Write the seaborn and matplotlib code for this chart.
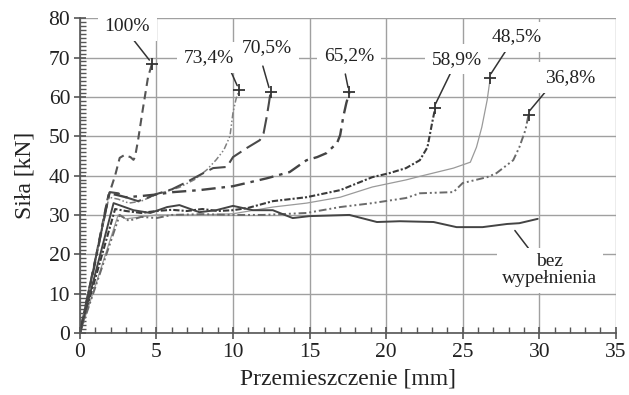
import matplotlib
matplotlib.use("Agg")
import matplotlib.pyplot as plt
import seaborn as sns
import pandas as pd
from matplotlib.ticker import MultipleLocator

# ---------------- data ----------------
series_names = ["100%", "73,4%", "70,5%", "65,2%", "58,9%", "48,5%", "36,8%", "bez wypełnienia"]

x_100 = [0, 1.0, 1.8, 2.3, 2.6, 2.9, 3.3, 3.5, 3.6, 3.8, 4.1, 4.45, 4.7]
y_100 = [0, 18.5, 34.0, 40.0, 44.5, 45.2, 44.7, 44.0, 44.7, 49.0, 56.6, 65.0, 68.3]

x_734 = [0, 1.0, 1.9, 2.5, 3.2, 4.0, 5.0, 6.5, 7.5, 8.3, 8.9, 9.4, 9.8, 10.0, 10.2, 10.4]
y_734 = [0, 18.0, 34.5, 34.0, 33.0, 33.5, 35.2, 37.0, 39.0, 41.5, 44.0, 46.5, 50.0, 56.0, 59.5, 61.7]

x_705 = [0, 1.0, 1.95, 2.5, 3.0, 3.8, 4.5, 5.0, 6.0, 7.0, 8.0, 8.7, 9.6, 10.0, 10.9, 11.75, 12.0, 12.2, 12.35, 12.45]
y_705 = [0, 18.5, 35.8, 35.5, 34.5, 33.5, 34.5, 35.3, 36.5, 38.4, 40.5, 41.9, 42.2, 44.7, 47.0, 49.0, 50.8, 54.9, 58.5, 61.2]

x_652 = [0, 1.0, 1.9, 2.5, 3.0, 4.0, 5.0, 6.1, 7.8, 10.0, 12.2, 13.7, 14.8, 15.5, 16.1, 16.8, 17.0, 17.2, 17.4, 17.6]
y_652 = [0, 18.0, 35.5, 35.0, 34.5, 34.8, 35.2, 35.8, 36.3, 37.3, 39.3, 40.9, 43.9, 44.7, 45.7, 48.3, 50.3, 54.9, 58.4, 61.2]

x_589 = [0, 1.2, 2.3, 3.0, 4.0, 5.0, 6.0, 7.0, 8.0, 9.0, 10.0, 11.0, 12.6, 14.8, 17.0, 19.1, 20.2, 21.3, 22.2, 22.7, 23.0, 23.2]
y_589 = [0, 16.5, 31.5, 31.0, 30.5, 31.0, 31.3, 31.0, 31.5, 31.0, 31.2, 31.8, 33.5, 34.5, 36.3, 39.6, 40.6, 41.9, 43.9, 47.2, 53.3, 57.1]

x_485 = [0, 1.3, 2.5, 3.0, 4.0, 5.0, 6.0, 8.0, 10.0, 12.6, 14.8, 17.0, 19.1, 21.3, 22.2, 24.4, 25.5, 25.9, 26.25, 26.6, 26.8]
y_485 = [0, 15.5, 30.0, 29.0, 29.5, 30.0, 30.0, 30.0, 30.3, 32.0, 33.0, 34.5, 37.1, 38.9, 39.8, 41.9, 43.4, 47.2, 52.3, 59.2, 64.8]

x_368 = [0, 1.3, 2.6, 3.2, 4.0, 5.0, 6.0, 8.0, 10.0, 12.0, 14.8, 17.0, 19.1, 21.3, 22.2, 24.4, 25.0, 26.6, 27.2, 28.3, 28.7, 29.1, 29.3]
y_368 = [0, 15.0, 30.0, 28.5, 29.5, 29.2, 30.0, 30.2, 30.0, 30.0, 30.5, 32.0, 33.0, 34.3, 35.5, 35.8, 38.1, 39.6, 40.6, 43.9, 47.2, 51.6, 55.4]

x_bez = [0, 1.1, 2.2, 3.5, 4.6, 5.7, 6.5, 7.8, 8.9, 10.0, 11.3, 12.6, 13.9, 15.0, 17.6, 19.4, 20.9, 23.1, 24.6, 26.3, 27.9, 28.7, 29.9]
y_bez = [0, 16.5, 33.0, 31.2, 30.5, 32.0, 32.5, 30.7, 31.2, 32.3, 31.2, 31.2, 29.2, 29.7, 30.0, 28.2, 28.4, 28.2, 26.9, 26.9, 27.7, 27.9, 29.0]

xs = [x_100, x_734, x_705, x_652, x_589, x_485, x_368, x_bez]
ys = [y_100, y_734, y_705, y_652, y_589, y_485, y_368, y_bez]

x_label = "Przemieszczenie [mm]"
y_label = "Siła [kN]"
x_ticks = [0, 5, 10, 15, 20, 25, 30, 35]
y_ticks = [0, 10, 20, 30, 40, 50, 60, 70, 80]

# ---------------- styles / layout ----------------
styles = {
    "100%":            dict(color="#555555", ls=(0, (4, 2.5)), lw=1.5),
    "73,4%":           dict(color="#808080", ls=(0, (4, 1.5, 1, 1.5, 1, 1.5)), lw=1.1),
    "70,5%":           dict(color="#4a4a4a", ls=(0, (8, 3)), lw=1.5),
    "65,2%":           dict(color="#444444", ls=(0, (6, 2.5, 1.5, 2.5)), lw=1.7),
    "58,9%":           dict(color="#3a3a3a", ls=(0, (3, 1, 1, 1)), lw=1.5),
    "48,5%":           dict(color="#9a9a9a", ls="-", lw=0.9),
    "36,8%":           dict(color="#6a6a6a", ls=(0, (4, 1.5, 1, 1.5, 1, 1.5)), lw=1.4),
    "bez wypełnienia": dict(color="#444444", ls="-", lw=1.4),
}
# annotation: text position (data), arrow start (data)
annot = {
    "100%":  ((3.1, 78.0), (3.4, 75.0)),
    "73,4%": ((8.4, 70.0), (9.8, 67.0)),
    "70,5%": ((12.2, 72.4), (11.9, 68.5)),
    "65,2%": ((17.6, 70.6), (17.3, 66.5)),
    "58,9%": ((24.6, 69.6), (24.3, 66.8)),
    "48,5%": ((28.5, 75.2), (27.9, 72.2)),
    "36,8%": ((32.0, 65.0), (30.6, 62.2)),
}

sns.set_theme(style="white")
plt.rcParams['font.family'] = ['Liberation Serif', 'DejaVu Serif']

fig = plt.figure(figsize=(6.29, 3.95), dpi=100)
ax = fig.add_axes([0.127, 0.157, 0.852, 0.797])

for name, x, y in zip(series_names, xs, ys):
    st = styles[name]
    df = pd.DataFrame({"x": x, "y": y})
    sns.lineplot(data=df, x="x", y="y", ax=ax, sort=False, estimator=None,
                 color=st["color"], linestyle=st["ls"], linewidth=st["lw"], zorder=3)
    if name in annot:
        ax.plot(x[-1], y[-1], marker="+", color="#333333", markersize=8,
                markeredgewidth=1.3, zorder=4)

ax.set_xlim(0, 35)
ax.set_ylim(0, 80)
ax.set_xticks(x_ticks)
ax.set_yticks(y_ticks)
ax.xaxis.set_minor_locator(MultipleLocator(1))
ax.yaxis.set_minor_locator(MultipleLocator(1))
ax.grid(True, which="major", color="#a0a0a0", linewidth=1.0, zorder=0)
ax.set_axisbelow(True)

for side in ["top", "right"]:
    ax.spines[side].set_visible(False)
for side in ["left", "bottom"]:
    ax.spines[side].set_color("#555555")
    ax.spines[side].set_linewidth(1.2)
    ax.spines[side].set_zorder(5)

ax.tick_params(axis="both", which="major", direction="inout", length=8, width=1.2,
               color="#555555", labelsize=15.5, pad=3)
ax.tick_params(axis="both", which="minor", direction="in", length=4, width=1.0,
               color="#555555")
ax.tick_params(axis="x", which="both", bottom=True)
ax.tick_params(axis="y", which="both", left=True)

ax.set_xlabel(x_label, fontsize=17, color="#222222", labelpad=5)
ax.set_ylabel(y_label, fontsize=17, color="#222222", labelpad=9)
for lab in ax.get_xticklabels() + ax.get_yticklabels():
    lab.set_color("#222222")

bbox = dict(boxstyle="square,pad=0.35", fc="white", ec="none")
for name, (txt_xy, arr_xy) in annot.items():
    i = series_names.index(name)
    end = (xs[i][-1] - 0.05, ys[i][-1] + 0.5)
    ax.annotate("", xy=end, xytext=arr_xy,
                arrowprops=dict(arrowstyle="-", color="#333333", lw=1.1),
                zorder=4, annotation_clip=False)
    ax.text(txt_xy[0], txt_xy[1], name, ha="center", va="center", fontsize=14,
            color="#222222", bbox=bbox, zorder=6, clip_on=False)

# bez wypełnienia label
ax.annotate("", xy=(28.3, 26.6), xytext=(29.4, 21.0),
            arrowprops=dict(arrowstyle="-", color="#333333", lw=1.1), zorder=4)
ax.text(30.7, 16.0, "bez\nwypełnienia", ha="center", va="center", fontsize=14,
        color="#222222", linespacing=0.95,
        bbox=dict(boxstyle="square,pad=0.3", fc="white", ec="none"), zorder=6, clip_on=False)

fig.savefig("out.png", dpi=100)
